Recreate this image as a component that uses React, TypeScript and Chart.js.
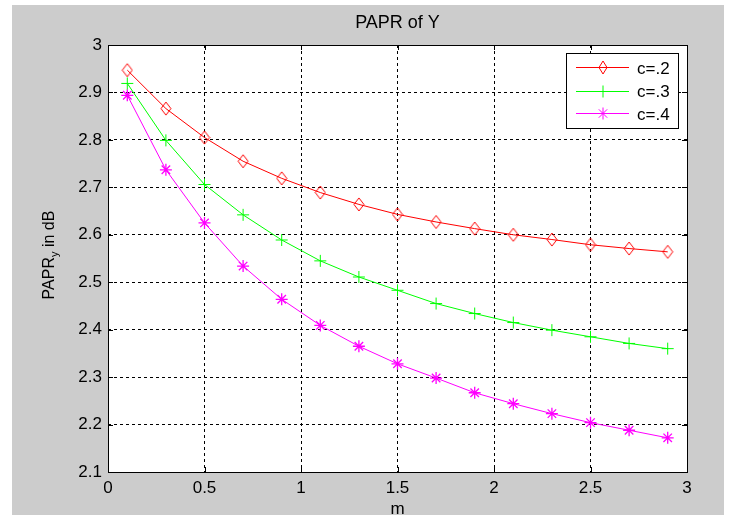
import React, { useEffect, useRef } from "react";
import { Chart, registerables } from "chart.js";

Chart.register(...registerables);

const mValues = [0.1, 0.3, 0.5, 0.7, 0.9, 1.1, 1.3, 1.5, 1.7, 1.9, 2.1, 2.3, 2.5, 2.7, 2.9];
const seriesC2 = [2.947, 2.866, 2.805, 2.755, 2.719, 2.689, 2.664, 2.643, 2.627, 2.613, 2.600, 2.590, 2.579, 2.571, 2.564];
const seriesC3 = [2.919, 2.799, 2.706, 2.642, 2.589, 2.545, 2.511, 2.483, 2.455, 2.434, 2.415, 2.399, 2.385, 2.371, 2.360];
const seriesC4 = [2.894, 2.737, 2.625, 2.534, 2.464, 2.409, 2.365, 2.328, 2.298, 2.267, 2.244, 2.223, 2.204, 2.188, 2.172];
const seriesLabels = ["c=.2", "c=.3", "c=.4"];
const seriesColors = ["#ff0000", "#00ff00", "#ff00ff"];
const titleText = "PAPR of Y";
const xTitle = "m";
const yTitleMain = "PAPR";
const yTitleSub = "y";
const yTitleRest = " in dB";

const FONT = "'Liberation Sans', Arial, sans-serif";

function makeDiamond(color: string, w: number, h: number): HTMLCanvasElement {
  const c = document.createElement("canvas");
  c.width = w;
  c.height = h;
  const ctx = c.getContext("2d")!;
  ctx.strokeStyle = color;
  ctx.lineWidth = 1;
  ctx.beginPath();
  ctx.moveTo(w / 2, 1);
  ctx.lineTo(w - 1, h / 2);
  ctx.lineTo(w / 2, h - 1);
  ctx.lineTo(1, h / 2);
  ctx.closePath();
  ctx.stroke();
  return c;
}

function drawMarker(ctx: CanvasRenderingContext2D, kind: number, x: number, y: number, color: string, diamond: HTMLCanvasElement) {
  ctx.save();
  ctx.strokeStyle = color;
  ctx.lineWidth = 1;
  if (kind === 0) {
    ctx.drawImage(diamond, x - diamond.width / 2, y - diamond.height / 2);
  } else {
    const r = 6;
    ctx.beginPath();
    ctx.moveTo(x - r, y);
    ctx.lineTo(x + r, y);
    ctx.moveTo(x, y - r);
    ctx.lineTo(x, y + r);
    if (kind === 2) {
      const d = r * 0.7;
      ctx.moveTo(x - d, y - d);
      ctx.lineTo(x + d, y + d);
      ctx.moveTo(x - d, y + d);
      ctx.lineTo(x + d, y - d);
    }
    ctx.stroke();
  }
  ctx.restore();
}

export default function App() {
  const ref = useRef<HTMLCanvasElement | null>(null);

  useEffect(() => {
    document.body.style.margin = "0";
    const canvas = ref.current;
    if (!canvas) return;
    const diamond = makeDiamond(seriesColors[0], 12, 15);
    const legendDiamond = makeDiamond(seriesColors[0], 10, 15);

    const framePlugin = {
      id: "matlabFrame",
      beforeDraw(chart: any) {
        const ctx = chart.ctx as CanvasRenderingContext2D;
        const { left, right, top, bottom } = chart.chartArea;
        ctx.save();
        ctx.fillStyle = "#ffffff";
        ctx.fillRect(0, 0, chart.width, chart.height);
        ctx.fillStyle = "#cccccc";
        ctx.fillRect(12, 5, 712, chart.height - 5);
        ctx.fillStyle = "#ffffff";
        ctx.fillRect(left, top, right - left, bottom - top);
        ctx.restore();
      },
      afterDraw(chart: any) {
        const ctx = chart.ctx as CanvasRenderingContext2D;
        const { left, right, top, bottom } = chart.chartArea;
        const xs = chart.scales.x;
        const ys = chart.scales.y;
        ctx.save();
        // box
        ctx.strokeStyle = "#000";
        ctx.lineWidth = 1;
        ctx.strokeRect(Math.round(left) + 0.5, Math.round(top) + 0.5, Math.round(right - left), Math.round(bottom - top));
        // inward ticks
        ctx.beginPath();
        xs.ticks.forEach((t: any) => {
          const px = Math.round(xs.getPixelForValue(t.value)) + 0.5;
          ctx.moveTo(px, bottom);
          ctx.lineTo(px, bottom - 5);
          ctx.moveTo(px, top);
          ctx.lineTo(px, top + 5);
        });
        ys.ticks.forEach((t: any) => {
          const py = Math.round(ys.getPixelForValue(t.value)) + 0.5;
          ctx.moveTo(left, py);
          ctx.lineTo(left + 5, py);
          ctx.moveTo(right, py);
          ctx.lineTo(right - 5, py);
        });
        ctx.stroke();

        // title
        ctx.fillStyle = "#000";
        ctx.font = `18px ${FONT}`;
        ctx.textAlign = "center";
        ctx.textBaseline = "middle";
        ctx.fillText(titleText, (left + right) / 2, 23);

        // y title with subscript
        ctx.save();
        ctx.translate(48, 255);
        ctx.rotate(-Math.PI / 2);
        const mainSize = 16;
        const subSize = 11;
        ctx.font = `${mainSize}px ${FONT}`;
        const w1 = ctx.measureText(yTitleMain).width;
        const w3 = ctx.measureText(yTitleRest).width;
        ctx.font = `${subSize}px ${FONT}`;
        const w2 = ctx.measureText(yTitleSub).width;
        const total = w1 + w2 + w3;
        let x0 = -total / 2;
        ctx.textAlign = "left";
        ctx.textBaseline = "alphabetic";
        ctx.font = `${mainSize}px ${FONT}`;
        ctx.fillText(yTitleMain, x0, 6);
        x0 += w1;
        ctx.font = `${subSize}px ${FONT}`;
        ctx.fillText(yTitleSub, x0, 10);
        x0 += w2;
        ctx.font = `${mainSize}px ${FONT}`;
        ctx.fillText(yTitleRest, x0, 6);
        ctx.restore();

        // legend
        const lx = 566.5, ly = 53.5, lw = 112, lh = 75;
        ctx.fillStyle = "#fff";
        ctx.fillRect(lx, ly, lw, lh);
        ctx.strokeStyle = "#000";
        ctx.strokeRect(lx, ly, lw, lh);
        const rows = [67, 90.5, 113];
        seriesLabels.forEach((lab, i) => {
          const y = rows[i];
          ctx.strokeStyle = seriesColors[i];
          ctx.beginPath();
          ctx.moveTo(576, Math.round(y) + 0.5);
          ctx.lineTo(629, Math.round(y) + 0.5);
          ctx.stroke();
          drawMarker(ctx, i, 603, Math.round(y) + 0.5, seriesColors[i], legendDiamond);
          ctx.fillStyle = "#000";
          ctx.font = `17px ${FONT}`;
          ctx.textAlign = "left";
          ctx.textBaseline = "middle";
          ctx.fillText(lab, 637, y + 2);
        });
        ctx.restore();
      },
    };

    const mk = (vals: number[]) => mValues.map((m, i) => ({ x: m, y: vals[i] }));

    const chart = new Chart(canvas, {
      type: "line",
      data: {
        datasets: [
          {
            label: seriesLabels[0],
            data: mk(seriesC2),
            borderColor: seriesColors[0],
            backgroundColor: seriesColors[0],
            borderWidth: 1,
            pointStyle: diamond as any,
            pointRadius: 6,
            pointBorderColor: seriesColors[0],
            tension: 0,
          },
          {
            label: seriesLabels[1],
            data: mk(seriesC3),
            borderColor: seriesColors[1],
            backgroundColor: seriesColors[1],
            borderWidth: 1,
            pointStyle: "cross",
            pointRadius: 6,
            pointBorderWidth: 1,
            pointBorderColor: seriesColors[1],
            tension: 0,
          },
          {
            label: seriesLabels[2],
            data: mk(seriesC4),
            borderColor: seriesColors[2],
            backgroundColor: seriesColors[2],
            borderWidth: 1,
            pointStyle: "star",
            pointRadius: 6,
            pointBorderWidth: 1.3,
            pointBorderColor: seriesColors[2],
            tension: 0,
          },
        ],
      },
      options: {
        responsive: false,
        animation: false,
        events: [],
        layout: { padding: { left: 0, right: 42, top: 45, bottom: 0 } },
        plugins: {
          legend: { display: false },
          title: { display: false },
          tooltip: { enabled: false },
        },
        scales: {
          x: {
            type: "linear",
            min: 0,
            max: 3,
            ticks: {
              stepSize: 0.5,
              color: "#000",
              font: { family: FONT, size: 17 },
              padding: 6,
              maxRotation: 0,
              callback: (v: any) => String(v),
            },
            grid: { color: "#000", lineWidth: 1, drawTicks: false },
            border: { display: false, dash: [3, 3] },
            title: {
              display: true,
              text: xTitle,
              color: "#000",
              font: { family: FONT, size: 17, lineHeight: 1 },
              padding: { top: 0, bottom: -3 },
            },
            afterFit: (s: any) => {
              s.height = 43;
            },
          },
          y: {
            type: "linear",
            min: 2.1,
            max: 3,
            ticks: {
              stepSize: 0.1,
              color: "#000",
              font: { family: FONT, size: 17 },
              padding: 6,
              callback: (v: any) => String(Math.round(v * 10) / 10),
            },
            grid: { color: "#000", lineWidth: 1, drawTicks: false },
            border: { display: false, dash: [3, 3] },
            afterFit: (s: any) => {
              s.width = 108;
            },
          },
        },
      },
      plugins: [framePlugin],
    });

    return () => chart.destroy();
  }, []);

  return <canvas ref={ref} width={729} height={515} style={{ display: "block" }} />;
}
